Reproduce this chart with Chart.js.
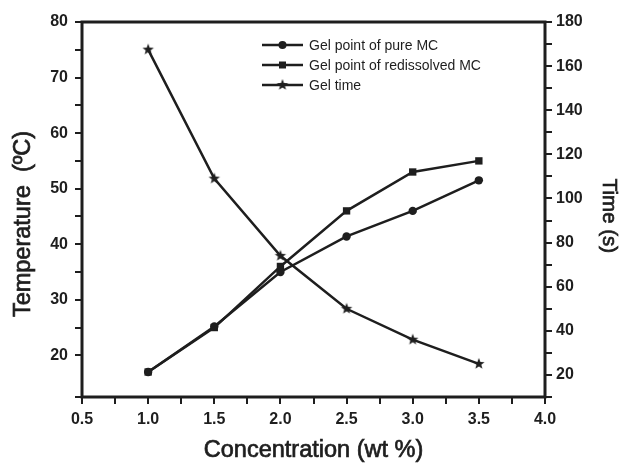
<!DOCTYPE html>
<html>
<head>
<meta charset="utf-8">
<script src="https://cdn.jsdelivr.net/npm/chart.js@4"></script>
<style>
  html, body { margin: 0; padding: 0; background: #fff; }
  #wrap { width: 620px; height: 464px; }
</style>
</head>
<body>
<div id="wrap"><canvas id="chart" width="620" height="464"></canvas></div>
<script>
const concentration = [1.0, 1.5, 2.0, 2.5, 3.0, 3.5];
const gelPointPure = [17, 25.2, 35, 41.4, 46, 51.5];
const gelPointRedissolved = [17, 25, 36, 46, 53, 55];
const gelTime = [167.5, 109, 74, 50, 36, 25];
const seriesLabels = ['Gel point of pure MC', 'Gel point of redissolved MC', 'Gel time'];
const axisTitles = { x: 'Concentration (wt %)', y: 'Temperature  (\u00baC)', y1: 'Time (s)' };

const INK = '#1e1e1e';
const FONT = "'Liberation Sans', Arial, sans-serif";

// filled five point star for the gel time markers
function makeStar(r) {
  const c = document.createElement('canvas');
  c.width = c.height = r * 2 + 2;
  const g = c.getContext('2d');
  g.fillStyle = INK;
  g.beginPath();
  for (let i = 0; i < 10; i++) {
    const rad = i % 2 === 0 ? r : r * 0.42;
    const a = -Math.PI / 2 + i * Math.PI / 5;
    const px = r + 1 + rad * Math.cos(a);
    const py = r + 1 + rad * Math.sin(a);
    i === 0 ? g.moveTo(px, py) : g.lineTo(px, py);
  }
  g.closePath();
  g.fill();
  return c;
}
const star = makeStar(6);

function toPoints(ys) {
  return concentration.map((x, i) => ({ x: x, y: ys[i] }));
}

const styles = [
  { pointStyle: 'circle', radius: 4.2 },
  { pointStyle: 'rect', radius: 5.2 },
  { pointStyle: star, radius: 6 }
];

// frame around the plot area
const framePlugin = {
  id: 'frame',
  afterDraw(chart) {
    const { ctx, chartArea: a } = chart;
    ctx.save();
    ctx.strokeStyle = INK;
    ctx.lineWidth = 3;
    ctx.strokeRect(a.left, a.top, a.right - a.left, a.bottom - a.top);
    ctx.restore();
  }
};

// axis titles, medium weight (fill + thin stroke), placed like the original
const titlesPlugin = {
  id: 'axisTitles',
  afterDraw(chart) {
    const { ctx, chartArea: a } = chart;
    const put = (text, x, y, rot, size) => {
      ctx.save();
      ctx.translate(x, y);
      ctx.rotate(rot);
      ctx.font = size + 'px ' + FONT;
      ctx.textAlign = 'center';
      ctx.textBaseline = 'middle';
      ctx.fillStyle = INK;
      ctx.strokeStyle = INK;
      ctx.lineWidth = 0.7;
      ctx.fillText(text, 0, 0);
      ctx.strokeText(text, 0, 0);
      ctx.restore();
    };
    put(axisTitles.x, (a.left + a.right) / 2, 450.5, 0, 23.5);
    put(axisTitles.y, 23.5, 224, -Math.PI / 2, 23.5);
    put(axisTitles.y1, 609, 216, Math.PI / 2, 20.5);
  }
};

// legend with line + marker, like the original
const legendPlugin = {
  id: 'lineLegend',
  afterDraw(chart) {
    const ctx = chart.ctx;
    ctx.save();
    ctx.font = '14px ' + FONT;
    ctx.textBaseline = 'middle';
    seriesLabels.forEach((label, i) => {
      const y = 45 + i * 20;
      ctx.strokeStyle = INK;
      ctx.lineWidth = 2.5;
      ctx.beginPath();
      ctx.moveTo(262, y);
      ctx.lineTo(303, y);
      ctx.stroke();
      ctx.fillStyle = INK;
      if (i === 0) {
        ctx.beginPath();
        ctx.arc(282.5, y, 4, 0, Math.PI * 2);
        ctx.fill();
      } else if (i === 1) {
        ctx.fillRect(279, y - 3.5, 7, 7);
      } else {
        ctx.drawImage(star, 282.5 - 7, y - 7);
      }
      ctx.fillText(label, 309, y + 1);
    });
    ctx.restore();
  }
};

const tickGrid = {
  drawOnChartArea: false,
  drawTicks: true,
  tickLength: 7,
  color: INK,
  lineWidth: 2
};
const tickFont = { family: FONT, size: 16, weight: 'bold' };

new Chart(document.getElementById('chart'), {
  type: 'line',
  data: {
    datasets: [
      { label: seriesLabels[0], data: toPoints(gelPointPure), yAxisID: 'y' },
      { label: seriesLabels[1], data: toPoints(gelPointRedissolved), yAxisID: 'y' },
      { label: seriesLabels[2], data: toPoints(gelTime), yAxisID: 'y1' }
    ].map((d, i) => Object.assign(d, {
      borderColor: INK,
      backgroundColor: INK,
      borderWidth: 2.5,
      pointStyle: styles[i].pointStyle,
      pointRadius: styles[i].radius,
      pointBorderWidth: 0,
      tension: 0
    }))
  },
  options: {
    responsive: false,
    animation: false,
    layout: { padding: { top: 22, left: 0, right: 0, bottom: 0 } },
    plugins: { legend: { display: false }, tooltip: { enabled: false } },
    scales: {
      x: {
        type: 'linear',
        min: 0.5,
        max: 4.0,
        border: { display: false },
        grid: tickGrid,
        ticks: {
          stepSize: 0.25,
          color: INK,
          font: tickFont,
          maxRotation: 0,
          autoSkip: false,
          padding: 6,
          callback: v => (Math.round(v * 100) % 50 === 0 ? v.toFixed(1) : '')
        },
        afterFit: s => { s.height = 67; }
      },
      y: {
        position: 'left',
        min: 12.5,
        max: 80,
        border: { display: false },
        grid: tickGrid,
        ticks: {
          stepSize: 5,
          color: INK,
          font: tickFont,
          autoSkip: false,
          padding: 7,
          callback: v => (v % 10 === 0 ? v : '')
        },
        afterFit: s => { s.width = 82; }
      },
      y1: {
        position: 'right',
        min: 10,
        max: 180,
        border: { display: false },
        grid: tickGrid,
        ticks: {
          stepSize: 10,
          color: INK,
          font: tickFont,
          autoSkip: false,
          padding: 4,
          callback: v => (v % 20 === 0 ? v : '')
        },
        afterFit: s => { s.width = 75; }
      }
    }
  },
  plugins: [framePlugin, titlesPlugin, legendPlugin]
});
</script>
</body>
</html>
